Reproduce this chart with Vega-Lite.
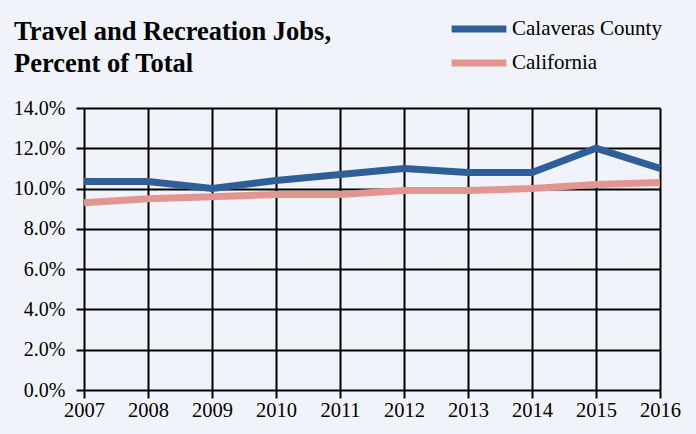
{
  "$schema": "https://vega.github.io/schema/vega-lite/v6.json",
  "width": 576,
  "height": 282,
  "autosize": {"type": "none"},
  "padding": {"left": 84, "top": 108, "right": 36, "bottom": 44},
  "background": "#f0f3f9",
  "title": {
    "text": ["Travel and Recreation Jobs,", "Percent of Total"],
    "anchor": "start",
    "frame": "group",
    "orient": "top",
    "baseline": "alphabetic",
    "dx": -70,
    "dy": 84,
    "offset": 0,
    "font": "'Liberation Serif', 'Times New Roman', Times, serif",
    "fontSize": 26.5,
    "fontWeight": "bold",
    "lineHeight": 32,
    "color": "#000000"
  },
  "data": {
    "values": [
      {"year": 2007, "series": "Calaveras County", "value": 10.35},
      {"year": 2008, "series": "Calaveras County", "value": 10.35},
      {"year": 2009, "series": "Calaveras County", "value": 10.0},
      {"year": 2010, "series": "Calaveras County", "value": 10.4},
      {"year": 2011, "series": "Calaveras County", "value": 10.7},
      {"year": 2012, "series": "Calaveras County", "value": 11.0},
      {"year": 2013, "series": "Calaveras County", "value": 10.8},
      {"year": 2014, "series": "Calaveras County", "value": 10.8},
      {"year": 2015, "series": "Calaveras County", "value": 12.0},
      {"year": 2016, "series": "Calaveras County", "value": 11.0},
      {"year": 2007, "series": "California", "value": 9.3},
      {"year": 2008, "series": "California", "value": 9.5},
      {"year": 2009, "series": "California", "value": 9.6},
      {"year": 2010, "series": "California", "value": 9.7},
      {"year": 2011, "series": "California", "value": 9.7},
      {"year": 2012, "series": "California", "value": 9.9},
      {"year": 2013, "series": "California", "value": 9.9},
      {"year": 2014, "series": "California", "value": 10.0},
      {"year": 2015, "series": "California", "value": 10.2},
      {"year": 2016, "series": "California", "value": 10.3}
    ]
  },
  "mark": {"type": "line", "strokeWidth": 7, "strokeCap": "butt", "strokeJoin": "miter"},
  "encoding": {
    "x": {
      "field": "year",
      "type": "quantitative",
      "scale": {"domain": [2007, 2016], "nice": false, "zero": false},
      "axis": {
        "title": null,
        "values": [2007, 2008, 2009, 2010, 2011, 2012, 2013, 2014, 2015, 2016],
        "format": "d",
        "grid": true,
        "gridColor": "#000000",
        "gridWidth": 2,
        "gridOpacity": 1,
        "domain": false,
        "tickColor": "#000000",
        "tickWidth": 2,
        "tickSize": 8,
        "labelFont": "'Liberation Serif', 'Times New Roman', Times, serif",
        "labelFontSize": 20.5,
        "labelColor": "#000000",
        "labelPadding": 2,
        "labelFlush": false
      }
    },
    "y": {
      "field": "value",
      "type": "quantitative",
      "scale": {"domain": [0, 14], "nice": false},
      "axis": {
        "title": null,
        "values": [0, 2, 4, 6, 8, 10, 12, 14],
        "labelExpr": "format(datum.value, '.1f') + '%'",
        "grid": true,
        "gridColor": "#000000",
        "gridWidth": 2,
        "gridOpacity": 1,
        "domain": false,
        "tickColor": "#000000",
        "tickWidth": 2,
        "tickSize": 8,
        "labelFont": "'Liberation Serif', 'Times New Roman', Times, serif",
        "labelFontSize": 20,
        "labelColor": "#000000",
        "labelPadding": 11
      }
    },
    "color": {
      "field": "series",
      "type": "nominal",
      "scale": {"domain": ["Calaveras County", "California"], "range": ["#2f5f98", "#e3958f"]},
      "legend": {
        "title": null,
        "orient": "none",
        "legendX": 364,
        "legendY": -94,
        "symbolType": "stroke",
        "symbolStrokeWidth": 7,
        "symbolSize": 3000,
        "clipHeight": 30,
        "labelFont": "'Liberation Serif', 'Times New Roman', Times, serif",
        "labelFontSize": 21,
        "labelColor": "#000000",
        "labelOffset": 2,
        "rowPadding": 4
      }
    }
  },
  "config": {"view": {"stroke": null}}
}
